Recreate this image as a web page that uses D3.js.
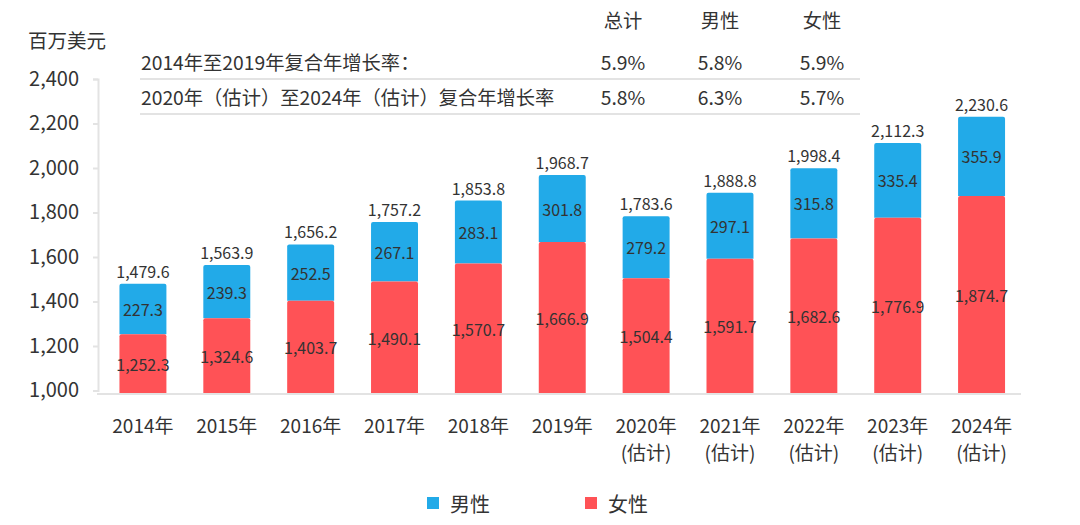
<!DOCTYPE html>
<html>
<head>
<meta charset="utf-8">
<script src="https://cdn.jsdelivr.net/npm/d3@7"></script>
<style>
  body { margin: 0; background: #fff; }
  text { font-family: "Noto Sans CJK SC", "Noto Sans", sans-serif; fill: #333; }
</style>
</head>
<body>
<div id="chart"></div>
<script>
let years = ["2014年", "2015年", "2016年", "2017年", "2018年", "2019年",
             "2020年", "2021年", "2022年", "2023年", "2024年"];
let estimated = [false, false, false, false, false, false, true, true, true, true, true];
let female = [1252.3, 1324.6, 1403.7, 1490.1, 1570.7, 1666.9, 1504.4, 1591.7, 1682.6, 1776.9, 1874.7];
let male = [227.3, 239.3, 252.5, 267.1, 283.1, 301.8, 279.2, 297.1, 315.8, 335.4, 355.9];
let totals = [1479.6, 1563.9, 1656.2, 1757.2, 1853.8, 1968.7, 1783.6, 1888.8, 1998.4, 2112.3, 2230.6];
let y_ticks = [1000, 1200, 1400, 1600, 1800, 2000, 2200, 2400];

let table_headers = ["总计", "男性", "女性"];
let table_rows = ["2014年至2019年复合年增长率：", "2020年（估计）至2024年（估计）复合年增长率"];
let table_values = [["5.9%", "5.8%", "5.9%"], ["5.8%", "6.3%", "5.7%"]];

let legend_names = ["男性", "女性"];
let blue = "#22aae8";
let red = "#ff5256";
let grid_color = "#e3e3e3";

let chart_width = 1080;
let chart_height = 525;
let bar_bottom = 394;

let svg = d3.select("#chart")
    .append("svg")
    .attr("width", chart_width)
    .attr("height", chart_height);

let xScale = d3.scaleBand()
    .domain(years)
    .range([101, 1023.5])
    .paddingInner(0.44)
    .paddingOuter(0.22);

let yScale = d3.scaleLinear()
    .domain([1000, 2400])
    .range([390.5, 79]);

// unit label
svg.append("text")
    .attr("x", 28)
    .attr("y", 39)
    .attr("dominant-baseline", "central")
    .attr("font-size", "19.5px")
    .text("百万美元");

// y axis
let y_axis = svg.append("g")
    .attr("transform", "translate(98,0)")
    .call(d3.axisLeft(yScale).tickValues(y_ticks).tickSize(5).tickPadding(14)
        .tickFormat(d3.format(",")));
y_axis.select(".domain").attr("stroke", grid_color).attr("stroke-width", 2);
y_axis.selectAll(".tick line").attr("stroke", grid_color).attr("stroke-width", 2);
y_axis.selectAll(".tick text").attr("font-size", "20px").attr("fill", "#333")
    .attr("font-family", "Noto Sans CJK SC");

// bars
let bars = svg.append("g");
years.forEach(function(year, i) {
    let x = xScale(year);
    let w = xScale.bandwidth();
    bars.append("path")
        .attr("fill", blue)
        .attr("d", rounded_top(x, yScale(totals[i]), w, yScale(female[i]) - yScale(totals[i]), 2));
    bars.append("path")
        .attr("fill", red)
        .attr("d", rounded_top(x, yScale(female[i]), w, bar_bottom - yScale(female[i]), 2));
});

function rounded_top(x, y, w, h, r) {
    return "M" + x + "," + (y + h) +
        "V" + (y + r) +
        "Q" + x + "," + y + " " + (x + r) + "," + y +
        "H" + (x + w - r) +
        "Q" + (x + w) + "," + y + " " + (x + w) + "," + (y + r) +
        "V" + (y + h) + "Z";
}

// x axis line
svg.append("line")
    .attr("x1", 97).attr("x2", 1021)
    .attr("y1", bar_bottom).attr("y2", bar_bottom)
    .attr("stroke", grid_color)
    .attr("stroke-width", 2);

// value labels
let labels = svg.append("g").attr("font-size", "16px").attr("text-anchor", "middle");
years.forEach(function(year, i) {
    let cx = xScale(year) + xScale.bandwidth() / 2;
    labels.append("text")
        .attr("x", cx)
        .attr("y", yScale(totals[i]) - 13)
        .attr("dominant-baseline", "central")
        .text(d3.format(",.1f")(totals[i]));
    labels.append("text")
        .attr("x", cx)
        .attr("y", (yScale(totals[i]) + yScale(female[i])) / 2)
        .attr("dominant-baseline", "central")
        .text(d3.format(",.1f")(male[i]));
    labels.append("text")
        .attr("x", cx)
        .attr("y", (yScale(female[i]) + bar_bottom) / 2)
        .attr("dominant-baseline", "central")
        .text(d3.format(",.1f")(female[i]));
});

// x labels (second line for estimates)
let x_labels = svg.append("g").attr("font-size", "19px").attr("text-anchor", "middle");
years.forEach(function(year, i) {
    let cx = xScale(year) + xScale.bandwidth() / 2;
    x_labels.append("text")
        .attr("x", cx)
        .attr("y", 432.5)
        .text(year);
    if (estimated[i]) {
        x_labels.append("text")
            .attr("x", cx)
            .attr("y", 460)
            .text("(估计)");
    }
});

// CAGR table
let table = svg.append("g").attr("font-size", "19.3px");
let col_x = [623, 720, 822];
let row_y = [62, 97];
table_headers.forEach(function(h, j) {
    table.append("text")
        .attr("x", col_x[j])
        .attr("y", 20)
        .attr("text-anchor", "middle")
        .attr("dominant-baseline", "central")
        .text(h);
});
table_rows.forEach(function(r, i) {
    table.append("text")
        .attr("x", 141)
        .attr("y", row_y[i])
        .attr("dominant-baseline", "central")
        .text(r);
    table_values[i].forEach(function(v, j) {
        table.append("text")
            .attr("x", col_x[j])
            .attr("y", row_y[i])
            .attr("text-anchor", "middle")
            .attr("dominant-baseline", "central")
            .text(v);
    });
    table.append("line")
        .attr("x1", 140).attr("x2", 860)
        .attr("y1", row_y[i] + 17).attr("y2", row_y[i] + 17)
        .attr("stroke", grid_color)
        .attr("stroke-width", 2);
});

// legend
let legend = svg.append("g").attr("font-size", "20px");
let legend_x = [427, 585];
legend_names.forEach(function(name, i) {
    legend.append("rect")
        .attr("x", legend_x[i])
        .attr("y", 497)
        .attr("width", 12)
        .attr("height", 12)
        .attr("fill", i == 0 ? blue : red);
    legend.append("text")
        .attr("x", legend_x[i] + 23)
        .attr("y", 503)
        .attr("dominant-baseline", "central")
        .text(name);
});
</script>
</body>
</html>
